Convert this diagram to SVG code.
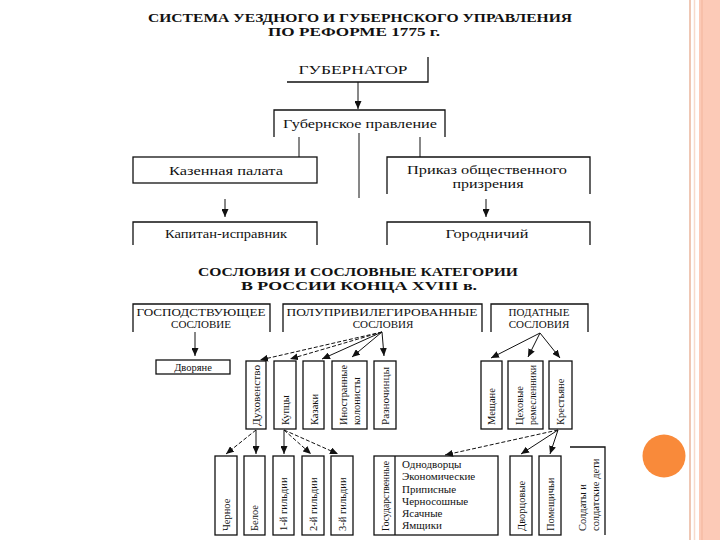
<svg xmlns="http://www.w3.org/2000/svg" width="720" height="540" viewBox="0 0 720 540">
<style>
text{font-family:"Liberation Serif","Times New Roman",serif;fill:#111}
.t{font-weight:bold;font-size:12.5px;text-anchor:middle}
.n{font-size:12.5px;text-anchor:middle}
.p{font-size:11.5px;text-anchor:middle}
.h{font-size:11px;text-anchor:middle}
.v{font-size:10.5px}
.l{font-size:11px}
.b{fill:none;stroke:#111;stroke-width:1.3}
.c{fill:none;stroke:#111;stroke-width:1}
.d{stroke-dasharray:4 2}
</style>
<defs>
<marker id="ar" markerUnits="userSpaceOnUse" markerWidth="9" markerHeight="7" refX="8" refY="3.5" orient="auto">
<path d="M0,0 L8,3.5 L0,7 z" fill="#111"/>
</marker>
</defs>
<rect width="720" height="540" fill="#fff"/>
<g id="decor">
<line x1="690" y1="0" x2="690" y2="540" stroke="#EFC7B4" stroke-width="2"/>
<line x1="694.5" y1="0" x2="694.5" y2="540" stroke="#F7DACB" stroke-width="1.5"/>
<rect x="699" y="0" width="21" height="540" fill="#FCCAB7"/>
<line x1="702" y1="0" x2="702" y2="540" stroke="#F6BBA5" stroke-width="1.5"/>
<circle cx="664" cy="456" r="21.5" fill="#F98A3A"/>
</g>
<g id="titles">
<text class="t" x="360" y="22" textLength="424" lengthAdjust="spacingAndGlyphs">СИСТЕМА УЕЗДНОГО И ГУБЕРНСКОГО УПРАВЛЕНИЯ</text>
<text class="t" x="354" y="36" textLength="172" lengthAdjust="spacingAndGlyphs">ПО РЕФОРМЕ  1775 г.</text>
<text class="t" x="358" y="276" textLength="320" lengthAdjust="spacingAndGlyphs">СОСЛОВИЯ И СОСЛОВНЫЕ КАТЕГОРИИ</text>
<text class="t" x="359" y="290" textLength="236" lengthAdjust="spacingAndGlyphs">В РОССИИ КОНЦА XVIII в.</text>
</g>
<g id="connectors">
<line class="c" x1="358" y1="82" x2="358" y2="109" marker-end="url(#ar)"/>
<line class="c" x1="299" y1="137" x2="299" y2="157"/>
<line class="c" x1="420" y1="137" x2="420" y2="157"/>
<line class="c" x1="359" y1="133" x2="359" y2="198"/>
<line class="c" x1="225" y1="199" x2="225" y2="217" marker-end="url(#ar)"/>
<line class="c" x1="486" y1="199" x2="486" y2="217" marker-end="url(#ar)"/>
<line class="c" x1="195" y1="332" x2="195" y2="356" marker-end="url(#ar)"/>
<line class="c d" x1="382" y1="332" x2="260" y2="360" marker-end="url(#ar)"/>
<line class="c d" x1="382" y1="332" x2="290" y2="359" marker-end="url(#ar)"/>
<line class="c" x1="382" y1="332" x2="322" y2="359" marker-end="url(#ar)"/>
<line class="c" x1="382" y1="332" x2="352" y2="357" marker-end="url(#ar)"/>
<line class="c" x1="382" y1="332" x2="384" y2="356" marker-end="url(#ar)"/>
<line class="c" x1="540" y1="333" x2="491" y2="358" marker-end="url(#ar)"/>
<line class="c" x1="540" y1="333" x2="528" y2="357" marker-end="url(#ar)"/>
<line class="c" x1="540" y1="333" x2="560" y2="358" marker-end="url(#ar)"/>
<line class="c d" x1="256" y1="430" x2="226" y2="454" marker-end="url(#ar)"/>
<line class="c" x1="256" y1="430" x2="256" y2="454" marker-end="url(#ar)"/>
<line class="c" x1="284" y1="430" x2="284" y2="454" marker-end="url(#ar)"/>
<line class="c d" x1="284" y1="430" x2="311" y2="454" marker-end="url(#ar)"/>
<line class="c d" x1="284" y1="430" x2="338" y2="454" marker-end="url(#ar)"/>
<line class="c d" x1="558" y1="430" x2="445" y2="455" marker-end="url(#ar)"/>
<line class="c" x1="558" y1="430" x2="521" y2="454" marker-end="url(#ar)"/>
<line class="c" x1="558" y1="430" x2="550" y2="454" marker-end="url(#ar)"/>
</g>
<g id="gubernator">
<path class="b" d="M428,57 V82 H287"/>
<text class="n" x="353" y="74" textLength="109" lengthAdjust="spacingAndGlyphs">ГУБЕРНАТОР</text>
</g>
<g id="gub-pravlenie">
<path class="b" d="M274,137 V110 H445 V137"/>
<text class="n" x="360" y="128" textLength="154" lengthAdjust="spacingAndGlyphs">Губернское правление</text>
</g>
<g id="kazennaya-palata">
<rect class="b" x="133" y="157" width="184" height="26"/>
<text class="n" x="226" y="175" textLength="114" lengthAdjust="spacingAndGlyphs">Казенная палата</text>
</g>
<g id="prikaz">
<path class="b" d="M387,194 V157 H590 V194"/>
<text class="p" x="487" y="174" textLength="160" lengthAdjust="spacingAndGlyphs">Приказ общественного</text>
<text class="p" x="488" y="188" textLength="71" lengthAdjust="spacingAndGlyphs">призрения</text>
</g>
<g id="kapitan-ispravnik">
<path class="b" d="M133,245 V222 H317 V245"/>
<text class="n" x="226" y="238" textLength="122" lengthAdjust="spacingAndGlyphs">Капитан-исправник</text>
</g>
<g id="gorodnichiy">
<path class="b" d="M387,245 V222 H590 V245"/>
<text class="n" x="487" y="238" textLength="83" lengthAdjust="spacingAndGlyphs">Городничий</text>
</g>
<g id="gospodstvuyushchee">
<path class="b" d="M133,332 V304 H270 V332"/>
<text class="h" x="201" y="316" textLength="129" lengthAdjust="spacingAndGlyphs">ГОСПОДСТВУЮЩЕЕ</text>
<text class="h" x="201" y="328">СОСЛОВИЕ</text>
</g>
<g id="poluprivilegirovannye">
<path class="b" d="M283,332 V304 H482 V332"/>
<text class="h" x="382" y="316" textLength="191" lengthAdjust="spacingAndGlyphs">ПОЛУПРИВИЛЕГИРОВАННЫЕ</text>
<text class="h" x="383" y="328">СОСЛОВИЯ</text>
</g>
<g id="podatnye">
<path class="b" d="M491,332 V304 H588 V332"/>
<text class="h" x="539" y="316">ПОДАТНЫЕ</text>
<text class="h" x="539" y="328">СОСЛОВИЯ</text>
</g>
<g id="dvoryane">
<rect class="b" x="156" y="360" width="74" height="14"/>
<text class="v" x="193" y="371" text-anchor="middle">Дворяне</text>
</g>
<g id="duhovenstvo">
<rect class="b" x="246" y="361" width="20" height="68"/>
<text class="v" transform="translate(260,426) rotate(-90)" textLength="61" lengthAdjust="spacingAndGlyphs">Духовенство</text>
</g>
<g id="kuptsy">
<rect class="b" x="274" y="361" width="22" height="68"/>
<text class="v" transform="translate(289,425) rotate(-90)">Купцы</text>
</g>
<g id="kazaki">
<rect class="b" x="303" y="361" width="21" height="68"/>
<text class="v" transform="translate(318,425) rotate(-90)">Казаки</text>
</g>
<g id="inostrannye">
<rect class="b" x="332" y="361" width="35" height="68"/>
<text class="v" transform="translate(347,425) rotate(-90)" textLength="60" lengthAdjust="spacingAndGlyphs">Иностранные</text>
<text class="v" transform="translate(360,425) rotate(-90)">колонисты</text>
</g>
<g id="raznochintsy">
<rect class="b" x="374" y="361" width="22" height="68"/>
<text class="v" transform="translate(389,425) rotate(-90)" textLength="58" lengthAdjust="spacingAndGlyphs">Разночинцы</text>
</g>
<g id="meshchane">
<rect class="b" x="481" y="361" width="21" height="68"/>
<text class="v" transform="translate(495,425) rotate(-90)">Мещане</text>
</g>
<g id="tsehovye">
<rect class="b" x="508" y="361" width="35" height="68"/>
<text class="v" transform="translate(523,425) rotate(-90)">Цеховые</text>
<text class="v" transform="translate(536,425) rotate(-90)" textLength="60" lengthAdjust="spacingAndGlyphs">ремесленники</text>
</g>
<g id="krestyane">
<rect class="b" x="549" y="361" width="23" height="68"/>
<text class="v" transform="translate(564,425) rotate(-90)">Крестьяне</text>
</g>
<g id="chernoe">
<rect class="b" x="215" y="456" width="22" height="79"/>
<text class="v" transform="translate(230,531) rotate(-90)">Черное</text>
</g>
<g id="beloe">
<rect class="b" x="244" y="456" width="21" height="79"/>
<text class="v" transform="translate(258,531) rotate(-90)">Белое</text>
</g>
<g id="gildiya1">
<rect class="b" x="273" y="456" width="21" height="79"/>
<text class="v" transform="translate(287,531) rotate(-90)">1-й гильдии</text>
</g>
<g id="gildiya2">
<rect class="b" x="302" y="456" width="22" height="79"/>
<text class="v" transform="translate(317,531) rotate(-90)">2-й гильдии</text>
</g>
<g id="gildiya3">
<rect class="b" x="331" y="456" width="22" height="79"/>
<text class="v" transform="translate(346,531) rotate(-90)">3-й гильдии</text>
</g>
<g id="gosudarstvennye">
<rect class="b" x="374" y="456" width="124" height="79"/>
<line class="b" x1="395" y1="456" x2="395" y2="535"/>
<text class="v" transform="translate(389,531) rotate(-90)" textLength="70" lengthAdjust="spacingAndGlyphs">Государственные</text>
<text class="l" x="402" y="468">Однодворцы</text>
<text class="l" x="402" y="480">Экономические</text>
<text class="l" x="402" y="493">Приписные</text>
<text class="l" x="402" y="505">Черносошные</text>
<text class="l" x="402" y="517">Ясачные</text>
<text class="l" x="402" y="529">Ямщики</text>
</g>
<g id="dvortsovye">
<rect class="b" x="510" y="456" width="22" height="79"/>
<text class="v" transform="translate(525,531) rotate(-90)">Дворцовые</text>
</g>
<g id="pomeshchichi">
<rect class="b" x="539" y="456" width="22" height="79"/>
<text class="v" transform="translate(554,531) rotate(-90)">Помещичьи</text>
</g>
<g id="soldaty">
<path class="b" d="M570,447 H605 V535"/>
<text class="v" transform="translate(586,531) rotate(-90)">Солдаты и</text>
<text class="v" transform="translate(599,531) rotate(-90)">солдатские дети</text>
</g>
</svg>
